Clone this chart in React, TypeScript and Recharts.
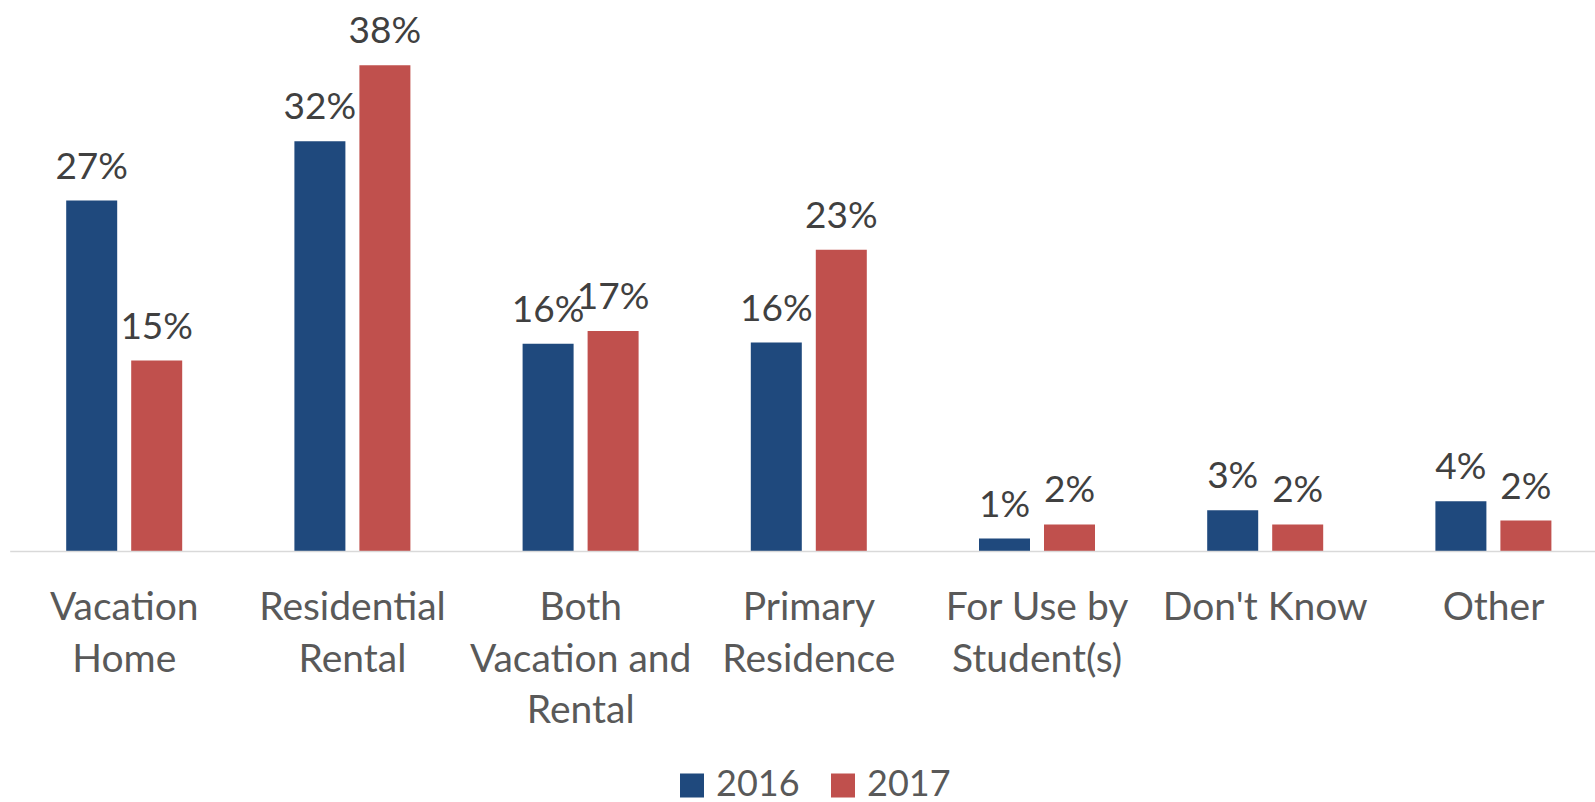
import { Bar, BarChart, LabelList, XAxis, YAxis } from "recharts";

const categoryLines = [
  ["Vacation", "Home"],
  ["Residential", "Rental"],
  ["Both", "Vacation and", "Rental"],
  ["Primary", "Residence"],
  ["For Use by", "Student(s)"],
  ["Don't Know"],
  ["Other"],
];
const categories = categoryLines.map((l) => l.join(" "));

// percentages (labels show them rounded)
const values2016 = [27.2, 31.8, 16.1, 16.2, 1.0, 3.2, 3.9];
const values2017 = [14.8, 37.7, 17.1, 23.4, 2.1, 2.1, 2.4];

const seriesNames = ["2016", "2017"];
const seriesColors = ["#1F497D", "#C0504D"];

const chartData = categories.map((name, i) => ({
  name,
  y2016: values2016[i],
  y2017: values2017[i],
}));

const FONT = "Lato, 'Open Sans', sans-serif";

function CategoryTick(props: { x?: number; y?: number; payload?: { index: number } }) {
  const { x = 0, y = 0, payload } = props;
  const lines = categoryLines[payload?.index ?? 0] ?? [];
  return (
    <text x={x} y={y} textAnchor="middle" fill="#595959" fontSize={39} fontFamily={FONT}>
      {lines.map((line, i) => (
        <tspan key={i} x={x} y={y + 68.5 + i * 51.7}>
          {line}
        </tspan>
      ))}
    </text>
  );
}

function ValueLabel(props: any) {
  const { x, y, width, value } = props;
  if (value === undefined || value === null) return null;
  return (
    <text
      x={Number(x) + Number(width) / 2}
      y={Number(y) - 22}
      textAnchor="middle"
      fill="#404040"
      fontSize={37}
      fontFamily={FONT}
    >
      {Math.round(Number(value))}%
    </text>
  );
}

function LegendBox() {
  const items = [
    { x: 680, textX: 716 },
    { x: 831, textX: 867 },
  ];
  return (
    <svg
      width={1595}
      height={802}
      style={{ position: "absolute", left: 0, top: 0, pointerEvents: "none" }}
    >
      {items.map((it, i) => (
        <g key={seriesNames[i]}>
          <rect x={it.x} y={773.5} width={24} height={24} fill={seriesColors[i]} />
          <text x={it.textX} y={796} fill="#595959" fontSize={36} fontFamily={FONT}>
            {seriesNames[i]}
          </text>
        </g>
      ))}
    </svg>
  );
}

export default function App() {
  return (
    <div
      style={{
        position: "absolute",
        left: 0,
        top: 0,
        width: 1595,
        height: 802,
        overflow: "hidden",
        background: "#ffffff",
      }}
    >
      <BarChart
        width={1620}
        height={802}
        data={chartData}
        margin={{ top: 35.5, right: 12.4, left: 10.2, bottom: 10 }}
        barGap={14}
      >
        <XAxis
          dataKey="name"
          height={240.5}
          tickLine={false}
          tickSize={0}
          tickMargin={0}
          interval={0}
          axisLine={{ stroke: "#d9d9d9", strokeWidth: 1.5 }}
          tick={<CategoryTick />}
        />
        <YAxis hide domain={[0, 40]} />
        <Bar dataKey="y2016" name={seriesNames[0]} fill={seriesColors[0]} barSize={51} isAnimationActive={false}>
          <LabelList dataKey="y2016" content={<ValueLabel />} />
        </Bar>
        <Bar dataKey="y2017" name={seriesNames[1]} fill={seriesColors[1]} barSize={51} isAnimationActive={false}>
          <LabelList dataKey="y2017" content={<ValueLabel />} />
        </Bar>
      </BarChart>
      <LegendBox />
    </div>
  );
}
